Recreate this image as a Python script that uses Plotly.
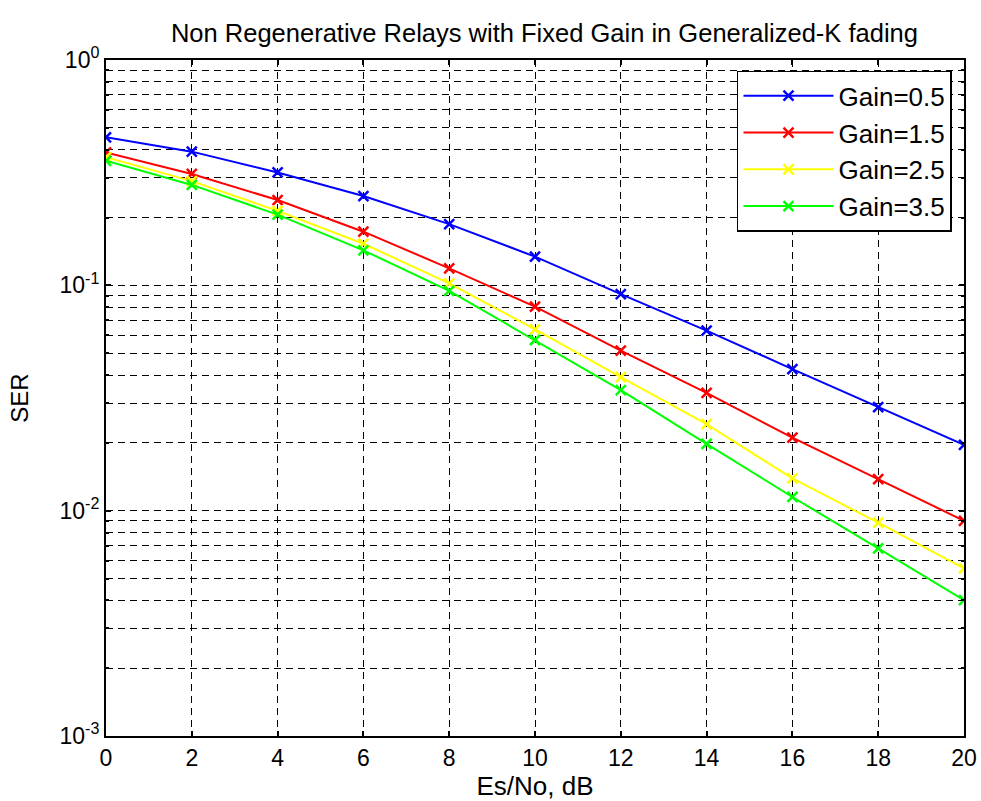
import plotly.graph_objects as go

snr_db = [0, 2, 4, 6, 8, 10, 12, 14, 16, 18, 20]
ser_gain_05 = [0.454, 0.392, 0.317, 0.249, 0.187, 0.134, 0.0914, 0.063, 0.0425, 0.0288, 0.0196]
ser_gain_15 = [0.389, 0.312, 0.239, 0.173, 0.119, 0.0804, 0.0513, 0.0333, 0.0211, 0.0138, 0.00902]
ser_gain_25 = [0.370, 0.290, 0.214, 0.153, 0.102, 0.0638, 0.0391, 0.0242, 0.0139, 0.00884, 0.00554]
ser_gain_35 = [0.357, 0.279, 0.206, 0.143, 0.0946, 0.0572, 0.0343, 0.0198, 0.0115, 0.00680, 0.00401]
series_names = ["Gain=0.5", "Gain=1.5", "Gain=2.5", "Gain=3.5"]
series_colors = ["#0000FF", "#FF0000", "#FFFF00", "#00FF00"]

x_ticks = [0, 2, 4, 6, 8, 10, 12, 14, 16, 18, 20]
y_major = [1e-3, 1e-2, 1e-1, 1e0]
y_major_text = ["10<sup>-3</sup>", "10<sup>-2</sup>", "10<sup>-1</sup>", "10<sup>0</sup>"]
y_minor = [m * 10 ** e for e in (-3, -2, -1) for m in range(2, 10)]

FONT = "Arial"

fig = go.Figure()
for name, color, vals in zip(series_names, series_colors,
                             [ser_gain_05, ser_gain_15, ser_gain_25, ser_gain_35]):
    fig.add_trace(go.Scatter(
        x=snr_db, y=vals, name=name, mode="lines+markers",
        line=dict(color=color, width=2),
        marker=dict(symbol="x-thin", size=10, color=color,
                    line=dict(color=color, width=2.5)),
    ))

grid_dash = "7px,5px"
fig.update_layout(
    width=981, height=801,
    paper_bgcolor="white", plot_bgcolor="white",
    margin=dict(l=106, r=17, t=60, b=65, autoexpand=False),
    font=dict(family=FONT, size=22, color="black"),
    title=dict(text="Non Regenerative Relays with Fixed Gain in Generalized-K fading",
               x=0.555, xanchor="center", y=0.959, yanchor="middle",
               font=dict(family=FONT, size=25.5, color="black")),
    showlegend=True,
    legend=dict(x=0.986, xanchor="right", y=0.984, yanchor="top",
                bgcolor="white", bordercolor="black", borderwidth=1.5,
                font=dict(family=FONT, size=26, color="black"),
                tracegroupgap=0, itemwidth=90),
    xaxis=dict(
        range=[0, 20], tickmode="array", tickvals=x_ticks, automargin=False,
        showline=True, linecolor="black", linewidth=2, mirror="ticks",
        ticks="inside", ticklen=5, tickwidth=1.5, tickcolor="black",
        showgrid=True, gridcolor="black", gridwidth=1.3, griddash=grid_dash,
        zeroline=False, ticklabeloverflow="allow",
        tickfont=dict(family=FONT, size=23, color="black"),
        title=dict(text="Es/No, dB", standoff=2,
                   font=dict(family=FONT, size=26, color="black")),
    ),
    yaxis=dict(
        type="log", range=[-3, 0], tickmode="array", automargin=False,
        tickvals=y_major, ticktext=y_major_text,
        showline=True, linecolor="black", linewidth=2, mirror="ticks",
        ticks="inside", ticklen=5, tickwidth=1.5, tickcolor="black",
        showgrid=True, gridcolor="black", gridwidth=1.3, griddash=grid_dash,
        zeroline=False, ticklabeloverflow="allow",
        tickfont=dict(family=FONT, size=23, color="black"),
        minor=dict(tickmode="array", tickvals=y_minor, ticks="inside", ticklen=3,
                   tickcolor="black", tickwidth=1.5,
                   showgrid=True, gridcolor="black", gridwidth=1.3, griddash=grid_dash),
        title=dict(text="SER", standoff=24,
                   font=dict(family=FONT, size=24, color="black")),
    ),
)

fig.write_html("out.html", config={"displayModeBar": False},
               post_script="document.body.style.margin='0';document.body.style.overflow='hidden';")
